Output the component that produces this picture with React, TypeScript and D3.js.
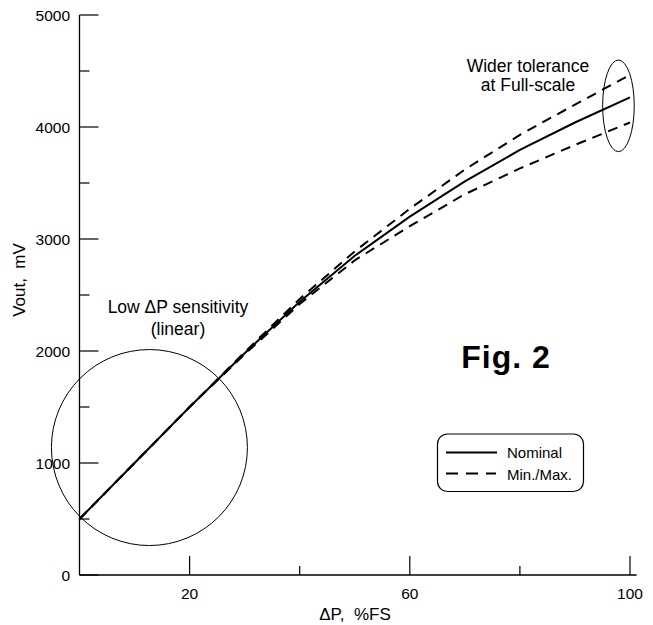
import React from "react";
import * as d3 from "d3";

const xValues = [0, 10, 20, 30, 40, 50, 60, 70, 80, 90, 100];
const nominal = [500, 1000, 1500, 1980, 2440, 2850, 3200, 3515, 3795, 4040, 4265];
const maxValues = [500, 1000, 1500, 1990, 2465, 2890, 3270, 3620, 3930, 4200, 4465];
const minValues = [500, 1000, 1500, 1970, 2420, 2810, 3115, 3400, 3630, 3840, 4040];

const xMajorTicks = [20, 60, 100];
const xMinorTicks = [40, 80];
const yMajorTicks = [0, 1000, 2000, 3000, 4000, 5000];
const yMinorTicks = [500, 1500, 2500, 3500, 4500];

const legendLabels = ["Nominal", "Min./Max."];

const W = 653;
const H = 625;
const FONT = "'Liberation Sans', Arial, Helvetica, sans-serif";

export default function App() {
  const x = d3.scaleLinear().domain([0, 100]).range([79.5, 630]);
  const y = d3.scaleLinear().domain([0, 5000]).range([575, 15]);

  const line = d3
    .line<number>()
    .x((_, i) => x(xValues[i]))
    .y((d) => y(d))
    .curve(d3.curveLinear);

  const x0 = x(0);
  const y0 = y(0);

  const circ = { cx: 12.7, cy: 1138, r: 98 };
  const ell = { cx: 97.9, cy: 4189, rx: 15.8, ry: 45.8 };

  return (
    <svg
      width={W}
      height={H}
      style={{ position: "absolute", left: 0, top: 0, background: "#fff" }}
      fontFamily={FONT}
    >
      <rect width={W} height={H} fill="#fff" />
      <line x1={x0} y1={y(5000)} x2={x0} y2={y0} stroke="#000" strokeWidth={1.3} />
      <line x1={x0} y1={y0} x2={x(101.2)} y2={y0} stroke="#000" strokeWidth={1.3} />
      {yMajorTicks.map((t) => (
        <g key={"ym" + t}>
          <line x1={x0} x2={x0 + 19} y1={y(t)} y2={y(t)} stroke="#000" strokeWidth={1.2} />
          <text x={70} y={y(t)} dy="0.36em" textAnchor="end" fontSize={15.5}>
            {t}
          </text>
        </g>
      ))}
      {yMinorTicks.map((t) => (
        <line key={"yn" + t} x1={x0} x2={x0 + 10} y1={y(t)} y2={y(t)} stroke="#000" strokeWidth={1.2} />
      ))}
      {xMajorTicks.map((t) => (
        <g key={"xm" + t}>
          <line x1={x(t)} x2={x(t)} y1={y0} y2={y0 - 19} stroke="#000" strokeWidth={1.2} />
          <text x={x(t)} y={599} textAnchor="middle" fontSize={15.5}>
            {t}
          </text>
        </g>
      ))}
      {xMinorTicks.map((t) => (
        <line key={"xn" + t} x1={x(t)} x2={x(t)} y1={y0} y2={y0 - 9} stroke="#000" strokeWidth={1.2} />
      ))}
      <text x={355} y={620} textAnchor="middle" fontSize={17} style={{ whiteSpace: "pre" }}>
        {"ΔP,  %FS"}
      </text>
      <text
        transform={`translate(25,280) rotate(-90)`}
        textAnchor="middle"
        fontSize={17}
        style={{ whiteSpace: "pre" }}
      >
        {"Vout,  mV"}
      </text>

      <path d={line(maxValues) || ""} fill="none" stroke="#000" strokeWidth={2} strokeDasharray="10,7" />
      <path d={line(minValues) || ""} fill="none" stroke="#000" strokeWidth={2} strokeDasharray="10,7" />
      <path d={line(nominal) || ""} fill="none" stroke="#000" strokeWidth={2} />

      <circle cx={x(circ.cx)} cy={y(circ.cy)} r={circ.r} fill="none" stroke="#000" strokeWidth={1} />
      <ellipse cx={x(ell.cx)} cy={y(ell.cy)} rx={ell.rx} ry={ell.ry} fill="none" stroke="#000" strokeWidth={1} />
      <text x={178} y={313} textAnchor="middle" fontSize={17.5}>
        Low ΔP sensitivity
      </text>
      <text x={178} y={335} textAnchor="middle" fontSize={17.5}>
        (linear)
      </text>
      <text x={528} y={72} textAnchor="middle" fontSize={17.5}>
        Wider tolerance
      </text>
      <text x={528} y={91} textAnchor="middle" fontSize={17.5}>
        at Full-scale
      </text>
      <text x={506} y={368} textAnchor="middle" fontSize={32} fontWeight="bold" letterSpacing={1}>
        Fig. 2
      </text>

      <rect x={437.5} y={434} width={146} height={57.5} rx={10} ry={10} fill="#fff" stroke="#000" strokeWidth={1.2} />
      <line x1={446} x2={497} y1={452.5} y2={452.5} stroke="#000" strokeWidth={2} />
      <line x1={446} x2={496} y1={473.5} y2={473.5} stroke="#000" strokeWidth={2} strokeDasharray="12,8" />
      <text x={507} y={457.5} fontSize={15}>
        {legendLabels[0]}
      </text>
      <text x={507} y={479.5} fontSize={15}>
        {legendLabels[1]}
      </text>
    </svg>
  );
}
